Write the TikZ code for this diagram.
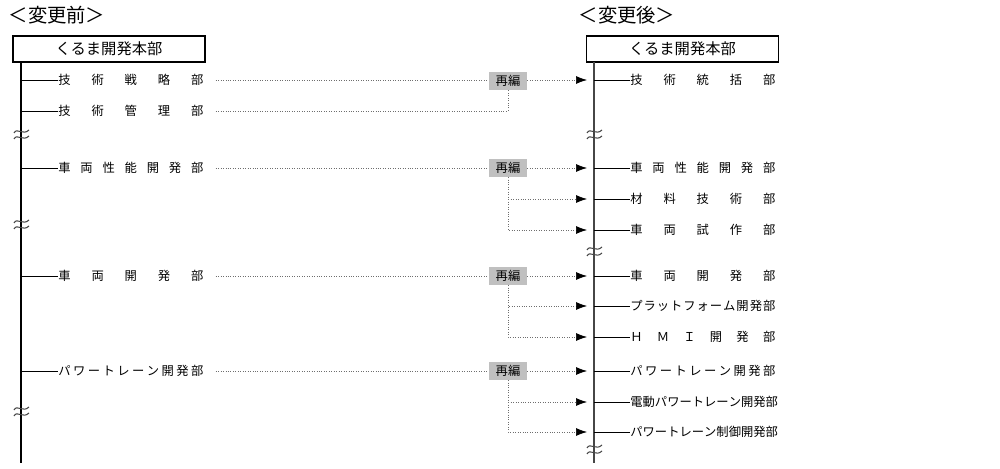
\documentclass[tikz,border=0pt]{standalone}
\usepackage{fontspec}
\setmainfont{Noto Sans CJK JP}
\usetikzlibrary{
  positioning,
  calc,
  arrows.meta}
\definecolor{reorgcolor}{RGB}{192,192,192}
\definecolor{linecolor}{RGB}{70,70,70}
\definecolor{movedcolor}{RGB}{110,110,110}
%% spread a department name over the full name width
\newcommand{\deptname}[1]{\hbox to 2.9cm{#1}}
\tikzset{
  omitmark/.pic = {
    \draw[linecolor, line width=0.6pt] (-7,-2) .. controls (-4,-8) and (2,1) .. (8,-5);
    \draw[linecolor, line width=0.6pt] (-7,4) .. controls (-4,-2) and (2,7) .. (8,1);
  }
}
\tikzset{
  %% title : before / after headings
  title/.style={
    inner sep=0pt,
    font=\fontsize{11pt}{13pt}\selectfont
  },
  %% hq : the head office box
  hq/.style={
    rectangle,
    draw=black,
    line width=0.8pt,
    minimum width=3.84cm,
    minimum height=0.52cm,
    inner sep=0pt,
    font=\fontsize{8.7pt}{10pt}\selectfont
  },
  %% dept : a department name
  dept/.style={
    anchor=west,
    inner sep=0pt,
    font=\fontsize{7pt}{8pt}\selectfont
  },
  %% reorg : the reorganisation tag
  reorg/.style={
    rectangle,
    fill=reorgcolor,
    minimum width=0.76cm,
    minimum height=0.35cm,
    inner sep=0pt,
    font=\fontsize{7pt}{8pt}\selectfont
  },
  trunk/.style={line width=0.9pt},
  branch/.style={line width=0.5pt},
  %% moved : dotted line from old to new department
  moved/.style={movedcolor, densely dotted, line width=0.4pt},
  movedarrow/.style={moved,
    -{Latex[length=0.22cm, width=0.16cm, color=black]},
    shorten >=0.14cm}
}
\begin{document}
\begin{tikzpicture}
  [x=0.02cm,
  y=-0.02cm]

  \useasboundingbox (0,0) rectangle (1000,469);

  %% Before
  \node (before) [title] at (57,15) {＜変更前＞};
  \node (oldhq) [hq] at (109,49) {くるま開発本部};
  \coordinate (oldtop) at (21,62);
  \coordinate (oldend) at (21,463);
  \draw [trunk] (oldtop) -- (oldend);

  \node (oldstrat) [dept] at (58,80) {\deptname{技\hfill 術\hfill 戦\hfill 略\hfill 部}};
  \node (oldmgmt) [dept] at (58,111) {\deptname{技\hfill 術\hfill 管\hfill 理\hfill 部}};
  \node (oldperf) [dept] at (58,168) {\deptname{車\hfill 両\hfill 性\hfill 能\hfill 開\hfill 発\hfill 部}};
  \node (oldveh) [dept] at (58,276) {\deptname{車\hfill 両\hfill 開\hfill 発\hfill 部}};
  \node (oldpt) [dept] at (58,371) {\deptname{パ\hfill ワ\hfill ー\hfill ト\hfill レ\hfill ー\hfill ン\hfill 開\hfill 発\hfill 部}};

  \draw [branch] (oldstrat.west -| oldtop) -- (oldstrat.west);
  \draw [branch] (oldmgmt.west -| oldtop) -- (oldmgmt.west);
  \draw [branch] (oldperf.west -| oldtop) -- (oldperf.west);
  \draw [branch] (oldveh.west -| oldtop) -- (oldveh.west);
  \draw [branch] (oldpt.west -| oldtop) -- (oldpt.west);

  \pic at (21,135) {omitmark};
  \pic at (21,225) {omitmark};
  \pic at (21,412) {omitmark};

  %% After
  \node (after) [title] at (627,15) {＜変更後＞};
  \node (newhq) [hq] at (682.5,49) {くるま開発本部};
  \coordinate (newtop) at (594,62);
  \coordinate (newend) at (594,463);
  \draw [trunk, linecolor, line width=0.7pt] (newtop) -- (newend);

  \node (techgen) [dept] at (630,80) {\deptname{技\hfill 術\hfill 統\hfill 括\hfill 部}};
  \node (newperf) [dept] at (630,168) {\deptname{車\hfill 両\hfill 性\hfill 能\hfill 開\hfill 発\hfill 部}};
  \node (material) [dept] at (630,199) {\deptname{材\hfill 料\hfill 技\hfill 術\hfill 部}};
  \node (proto) [dept] at (630,230) {\deptname{車\hfill 両\hfill 試\hfill 作\hfill 部}};
  \node (newveh) [dept] at (630,276) {\deptname{車\hfill 両\hfill 開\hfill 発\hfill 部}};
  \node (platform) [dept] at (630,306) {\deptname{プ\hfill ラ\hfill ッ\hfill ト\hfill フ\hfill ォ\hfill ー\hfill ム\hfill 開\hfill 発\hfill 部}};
  \node (hmi) [dept] at (630,337) {\deptname{Ｈ\hfill Ｍ\hfill Ｉ\hfill 開\hfill 発\hfill 部}};
  \node (newpt) [dept] at (630,371) {\deptname{パ\hfill ワ\hfill ー\hfill ト\hfill レ\hfill ー\hfill ン\hfill 開\hfill 発\hfill 部}};
  \node (electric) [dept] at (630,402) {\deptname{電\hfill 動\hfill パ\hfill ワ\hfill ー\hfill ト\hfill レ\hfill ー\hfill ン\hfill 開\hfill 発\hfill 部}};
  \node (ptcontrol) [dept] at (630,432) {\deptname{パ\hfill ワ\hfill ー\hfill ト\hfill レ\hfill ー\hfill ン\hfill 制\hfill 御\hfill 開\hfill 発\hfill 部}};

  \draw [branch] (techgen.west -| newtop) -- (techgen.west);
  \draw [branch] (newperf.west -| newtop) -- (newperf.west);
  \draw [branch] (material.west -| newtop) -- (material.west);
  \draw [branch] (proto.west -| newtop) -- (proto.west);
  \draw [branch] (newveh.west -| newtop) -- (newveh.west);
  \draw [branch] (platform.west -| newtop) -- (platform.west);
  \draw [branch] (hmi.west -| newtop) -- (hmi.west);
  \draw [branch] (newpt.west -| newtop) -- (newpt.west);
  \draw [branch] (electric.west -| newtop) -- (electric.west);
  \draw [branch] (ptcontrol.west -| newtop) -- (ptcontrol.west);

  \pic at (594,135) {omitmark};
  \pic at (594,252) {omitmark};
  \pic at (594,450) {omitmark};

  %% Reorganisation
  \node (reorgtech) [reorg] at (508,81) {再編};
  \node (reorgperf) [reorg] at (508,168) {再編};
  \node (reorgveh) [reorg] at (508,276) {再編};
  \node (reorgpt) [reorg] at (508,371) {再編};

  \draw [moved, shorten <=0.24cm] (oldstrat.east) -- (reorgtech.west |- oldstrat.east);
  \draw [moved, shorten <=0.24cm] (oldmgmt.east) -| (reorgtech.south);
  \draw [movedarrow] (reorgtech.east |- techgen.west) -- (techgen.west -| newtop);

  \draw [moved, shorten <=0.24cm] (oldperf.east) -- (reorgperf.west);
  \draw [movedarrow] (reorgperf.east) -- (newperf.west -| newtop);
  \draw [movedarrow] (reorgperf.south) |- (material.west -| newtop);
  \draw [movedarrow] (reorgperf.south) |- (proto.west -| newtop);

  \draw [moved, shorten <=0.24cm] (oldveh.east) -- (reorgveh.west);
  \draw [movedarrow] (reorgveh.east) -- (newveh.west -| newtop);
  \draw [movedarrow] (reorgveh.south) |- (platform.west -| newtop);
  \draw [movedarrow] (reorgveh.south) |- (hmi.west -| newtop);

  \draw [moved, shorten <=0.24cm] (oldpt.east) -- (reorgpt.west);
  \draw [movedarrow] (reorgpt.east) -- (newpt.west -| newtop);
  \draw [movedarrow] (reorgpt.south) |- (electric.west -| newtop);
  \draw [movedarrow] (reorgpt.south) |- (ptcontrol.west -| newtop);

\end{tikzpicture}
\end{document}
